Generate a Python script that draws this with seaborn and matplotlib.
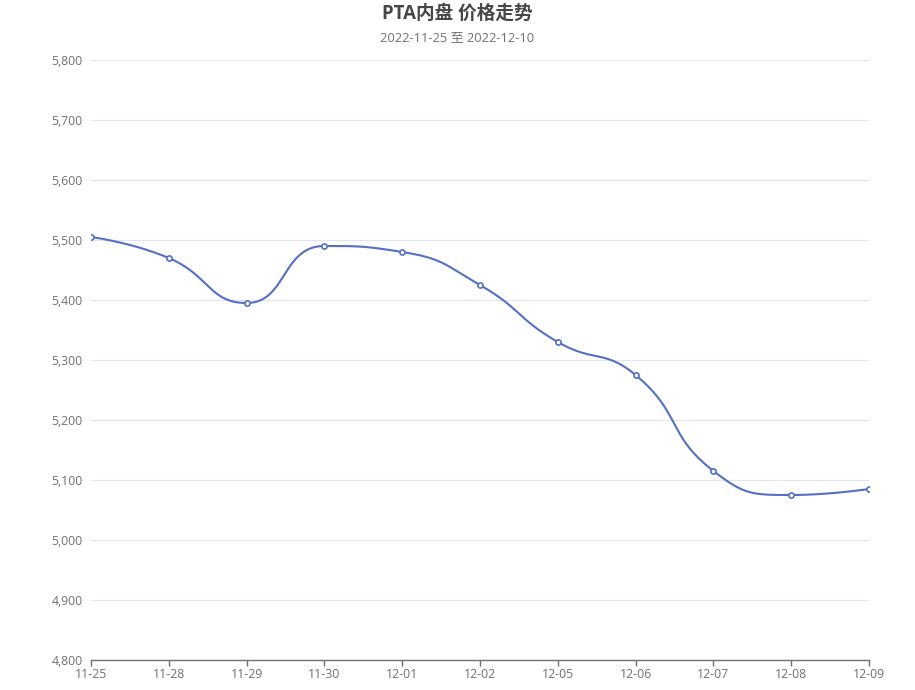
import numpy as np
import pandas as pd
import seaborn as sns
import matplotlib.pyplot as plt

dates = ["11-25", "11-28", "11-29", "11-30", "12-01", "12-02",
         "12-05", "12-06", "12-07", "12-08", "12-09"]
prices = [5505, 5470, 5395, 5490, 5480, 5425, 5330, 5275, 5115, 5075, 5085]
title = "PTA内盘 价格走势"
subtitle = "2022-11-25 至 2022-12-10"

LINE = "#5470c6"
GREY = "#6E7079"

df = pd.DataFrame({"idx": np.arange(len(dates)), "price": prices})

# echarts-style smoothing (smooth=0.5, constrained), done in pixel space
W, H = 915, 690
x0, x1, y0, y1 = 91, 869, 60, 660
sx = (x1 - x0) / (len(dates) - 1)
sy = (y1 - y0) / 1000.0
px = df["idx"].to_numpy() * sx
py = df["price"].to_numpy() * sy


def clamp(v, a, b):
    return min(max(v, min(a, b)), max(a, b))


def smooth_curve(px, py, smooth=0.5, n=40):
    cps = []
    for i in range(len(px)):
        x, y = px[i], py[i]
        if i == 0 or i == len(px) - 1:
            cps.append(((x, y), (x, y)))
            continue
        prx, pry, nx, ny = px[i - 1], py[i - 1], px[i + 1], py[i + 1]
        vx, vy = nx - prx, ny - pry
        d0 = np.hypot(x - prx, y - pry)
        d1 = np.hypot(nx - x, ny - y)
        r = d1 / (d0 + d1)
        ncx = clamp(x + vx * smooth * r, nx, x)
        ncy = clamp(y + vy * smooth * r, ny, y)
        vx, vy = ncx - x, ncy - y
        pcx = clamp(x - vx * d0 / d1, prx, x)
        pcy = clamp(y - vy * d0 / d1, pry, y)
        vx, vy = x - pcx, y - pcy
        ncx = x + vx * d1 / d0
        ncy = y + vy * d1 / d0
        cps.append(((pcx, pcy), (ncx, ncy)))
    xs, ys = [], []
    t = np.linspace(0, 1, n)
    for i in range(len(px) - 1):
        p0 = np.array([px[i], py[i]])
        c1 = np.array(cps[i][1])
        c2 = np.array(cps[i + 1][0])
        p3 = np.array([px[i + 1], py[i + 1]])
        b = ((1 - t) ** 3)[:, None] * p0 + (3 * (1 - t) ** 2 * t)[:, None] * c1 \
            + (3 * (1 - t) * t ** 2)[:, None] * c2 + (t ** 3)[:, None] * p3
        xs.append(b[:, 0])
        ys.append(b[:, 1])
    return np.concatenate(xs) / sx, np.concatenate(ys) / sy


cx, cy = smooth_curve(px, py)
curve = pd.DataFrame({"idx": cx, "price": cy})

sns.set_theme(style="white")
plt.rcParams["font.family"] = ["Open Sans", "Noto Sans CJK SC", "DejaVu Sans"]

fig = plt.figure(figsize=(W / 100, H / 100), dpi=100)
ax = fig.add_axes([x0 / W, 1 - y1 / H, (x1 - x0) / W, (y1 - y0) / H])

sns.lineplot(data=curve, x="idx", y="price", sort=False, color=LINE,
             linewidth=1.5, ax=ax, zorder=3)
sns.scatterplot(data=df, x="idx", y="price", ax=ax, marker="o", s=14,
                facecolor="white", edgecolor=LINE, linewidth=1.2, zorder=4)

ax.set_xlim(0, len(dates) - 1)
ax.set_ylim(4800, 5800)
ax.set_xticks(df["idx"])
ax.set_xticklabels(dates)
ax.set_yticks(np.arange(4800, 5801, 100))
ax.yaxis.set_major_formatter(plt.FuncFormatter(lambda v, p: f"{int(v):,}"))
ax.set_xlabel("")
ax.set_ylabel("")

ax.grid(axis="y", color="#E0E6F1", linewidth=0.8)
ax.grid(axis="x", visible=False)
for s in ["top", "right", "left"]:
    ax.spines[s].set_visible(False)
ax.spines["bottom"].set_color(GREY)
ax.spines["bottom"].set_linewidth(1)
ax.tick_params(axis="x", colors=GREY, labelsize=8.8, length=4, width=1,
               pad=1.5, direction="out", bottom=True)
ax.tick_params(axis="y", colors=GREY, labelsize=8.8, length=0, pad=6)
for lab in ax.get_xticklabels() + ax.get_yticklabels():
    lab.set_color(GREY)

fig.text(0.5, 1 - 14 / H, title, ha="center", va="center",
         fontsize=13.4, fontweight="bold", color="#464646")
fig.text(0.5, 1 - 38 / H, subtitle, ha="center", va="center",
         fontsize=9.3, color=GREY)

fig.savefig("out.png", dpi=100)
